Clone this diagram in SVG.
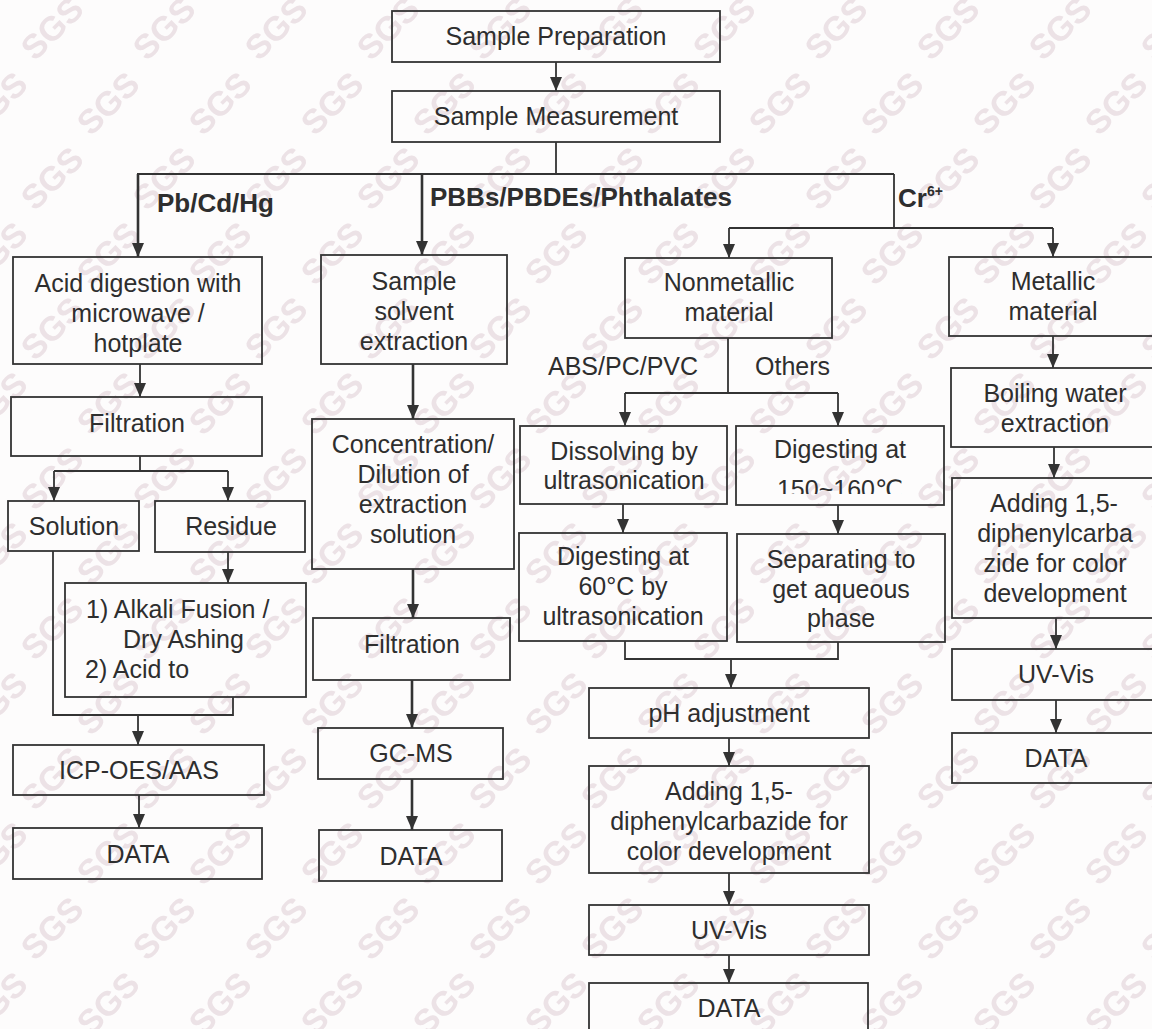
<svg xmlns="http://www.w3.org/2000/svg" width="1152" height="1029" viewBox="0 0 1152 1029">
<defs>
<style>
.box{fill:none;stroke:#333;stroke-width:1.8}
.t{font-family:"Liberation Sans",Arial,"DejaVu Sans",sans-serif;font-size:25px;fill:#2e2e2e;text-anchor:middle}
.tl{font-family:"Liberation Sans",Arial,sans-serif;font-size:25px;fill:#2e2e2e}
.b{font-family:"Liberation Sans",Arial,sans-serif;font-size:26px;font-weight:bold;fill:#2e2e2e}
.ln{fill:none;stroke:#333;stroke-width:1.8}
.th{fill:none;stroke:#333;stroke-width:2.6}
.ar{marker-end:url(#ah)}
.wm{font-family:"Liberation Sans",Arial,sans-serif;font-size:34px;font-weight:bold;fill:#ece2e6}
</style>
<marker id="ah" markerUnits="userSpaceOnUse" markerWidth="14" markerHeight="14" viewBox="0 0 14 12" refX="14" refY="6" orient="auto">
<path d="M0,0 L14,6 L0,12 z" fill="#333"/>
</marker>
<pattern id="wmp" patternUnits="userSpaceOnUse" width="112" height="150" patternTransform="translate(10,-10)">
<text class="wm" transform="translate(25,72) rotate(-45)">SGS</text>
<text class="wm" transform="translate(81,147) rotate(-45)">SGS</text>
<text class="wm" transform="translate(-31,147) rotate(-45)">SGS</text>
<text class="wm" transform="translate(81,-3) rotate(-45)">SGS</text>
<text class="wm" transform="translate(-31,-3) rotate(-45)">SGS</text>
</pattern>
<clipPath id="clip150"><rect x="736" y="426" width="208" height="68"/></clipPath>
</defs>
<rect width="1152" height="1029" fill="#fdfcfc"/>
<rect id="watermark" width="1152" height="1029" fill="url(#wmp)"/>

<g id="connectors">
<path class="ln ar" d="M556,62 V91"/>
<path class="ln" d="M556,142 V174 M137,174 H894"/>
<path class="th ar" d="M138,174 V257"/>
<path class="th ar" d="M422,174 V255"/>
<path class="ln" d="M894,174 V228 M729,228 H1053"/>
<path class="ln ar" d="M729,228 V258"/>
<path class="ln ar" d="M1053,228 V257"/>
<path class="ln ar" d="M140,364 V397"/>
<path class="ln" d="M140,456 V471 M54,471 H228"/>
<path class="ln ar" d="M54,471 V501"/>
<path class="ln ar" d="M228,471 V501"/>
<path class="ln ar" d="M228,552 V583"/>
<path class="ln" d="M53,551 V715 H233 V697"/>
<path class="ln ar" d="M138,715 V745"/>
<path class="ln ar" d="M139,795 V828"/>
<path class="th ar" d="M413,364 V419"/>
<path class="th ar" d="M413,569 V618"/>
<path class="th ar" d="M412,680 V728"/>
<path class="th ar" d="M412,779 V830"/>
<path class="ln" d="M728,338 V393 M625,393 H838"/>
<path class="ln ar" d="M625,393 V426"/>
<path class="ln ar" d="M838,393 V426"/>
<path class="ln ar" d="M623,504 V533"/>
<path class="ln ar" d="M838,505 V534"/>
<path class="ln" d="M625,641 V659 H838 V642"/>
<path class="ln ar" d="M731,659 V688"/>
<path class="ln ar" d="M729,738 V766"/>
<path class="ln ar" d="M729,873 V905"/>
<path class="ln ar" d="M729,955 V983"/>
<path class="ln ar" d="M1053,336 V368"/>
<path class="ln ar" d="M1054,447 V478"/>
<path class="ln ar" d="M1056,618 V649"/>
<path class="ln ar" d="M1056,700 V733"/>
</g>

<g id="labels">
<text class="b" x="157" y="212">Pb/Cd/Hg</text>
<text class="b" x="430" y="206">PBBs/PBDEs/Phthalates</text>
<text class="b" x="898" y="207">Cr<tspan font-size="14" dy="-11">6+</tspan></text>
<text class="tl" x="548" y="375">ABS/PC/PVC</text>
<text class="tl" x="755" y="375">Others</text>
</g>

<g id="prep"><rect class="box" x="392" y="11" width="328" height="51"/><text class="t" x="556" y="45">Sample Preparation</text></g>
<g id="meas"><rect class="box" x="392" y="91" width="328" height="51"/><text class="t" x="556" y="125">Sample Measurement</text></g>

<g id="acid"><rect class="box" x="13" y="257" width="249" height="107"/>
<text class="t" x="138" y="292">Acid digestion with</text><text class="t" x="138" y="322">microwave /</text><text class="t" x="138" y="352">hotplate</text></g>
<g id="filt1"><rect class="box" x="11" y="397" width="251" height="59"/><text class="t" x="137" y="432">Filtration</text></g>
<g id="solution"><rect class="box" x="8" y="501" width="131" height="50"/><text class="t" x="74" y="535">Solution</text></g>
<g id="residue"><rect class="box" x="155" y="501" width="150" height="51"/><text class="t" x="231" y="535">Residue</text></g>
<g id="alkali"><rect class="box" x="65" y="583" width="241" height="114"/>
<text class="tl" x="86" y="618">1) Alkali Fusion /</text><text class="tl" x="123" y="648">Dry Ashing</text><text class="tl" x="85" y="678">2) Acid to</text></g>
<g id="icp"><rect class="box" x="13" y="745" width="251" height="50"/><text class="t" x="139" y="779">ICP-OES/AAS</text></g>
<g id="data1"><rect class="box" x="13" y="828" width="249" height="51"/><text class="t" x="138" y="863">DATA</text></g>

<g id="solvent"><rect class="box" x="321" y="255" width="186" height="109"/>
<text class="t" x="414" y="290">Sample</text><text class="t" x="414" y="320">solvent</text><text class="t" x="414" y="350">extraction</text></g>
<g id="conc"><rect class="box" x="312" y="419" width="202" height="150"/>
<text class="t" x="413" y="453">Concentration/</text><text class="t" x="413" y="483">Dilution of</text><text class="t" x="413" y="513">extraction</text><text class="t" x="413" y="543">solution</text></g>
<g id="filt2"><rect class="box" x="313" y="618" width="197" height="62"/><text class="t" x="412" y="653">Filtration</text></g>
<g id="gcms"><rect class="box" x="318" y="728" width="185" height="51"/><text class="t" x="411" y="762">GC-MS</text></g>
<g id="data2"><rect class="box" x="319" y="830" width="183" height="51"/><text class="t" x="411" y="865">DATA</text></g>

<g id="nonmetallic"><rect class="box" x="625" y="258" width="207" height="80"/>
<text class="t" x="729" y="291">Nonmetallic</text><text class="t" x="729" y="321">material</text></g>
<g id="dissolving"><rect class="box" x="520" y="426" width="207" height="78"/>
<text class="t" x="624" y="460">Dissolving by</text><text class="t" x="624" y="489">ultrasonication</text></g>
<g id="dig150"><rect class="box" x="736" y="426" width="208" height="79"/>
<text class="t" x="840" y="458">Digesting at</text><text class="t" x="840" y="498" clip-path="url(#clip150)">150~160℃</text></g>
<g id="dig60"><rect class="box" x="519" y="533" width="208" height="108"/>
<text class="t" x="623" y="565">Digesting at</text><text class="t" x="623" y="595">60°C by</text><text class="t" x="623" y="625">ultrasonication</text></g>
<g id="separating"><rect class="box" x="737" y="534" width="208" height="108"/>
<text class="t" x="841" y="568">Separating to</text><text class="t" x="841" y="598">get aqueous</text><text class="t" x="841" y="627">phase</text></g>
<g id="ph"><rect class="box" x="589" y="688" width="280" height="50"/><text class="t" x="729" y="722">pH adjustment</text></g>
<g id="adding2"><rect class="box" x="589" y="766" width="280" height="107"/>
<text class="t" x="729" y="800">Adding 1,5-</text><text class="t" x="729" y="830">diphenylcarbazide for</text><text class="t" x="729" y="860">color development</text></g>
<g id="uv2"><rect class="box" x="589" y="905" width="280" height="50"/><text class="t" x="729" y="939">UV-Vis</text></g>
<g id="data3"><rect class="box" x="589" y="983" width="279" height="60"/><text class="t" x="729" y="1017">DATA</text></g>

<g id="metallic"><rect class="box" x="949" y="257" width="220" height="79"/>
<text class="t" x="1053" y="290">Metallic</text><text class="t" x="1053" y="320">material</text></g>
<g id="boiling"><rect class="box" x="951" y="368" width="220" height="79"/>
<text class="t" x="1055" y="402">Boiling water</text><text class="t" x="1055" y="432">extraction</text></g>
<g id="adding1"><rect class="box" x="952" y="478" width="220" height="140"/>
<text class="t" x="1054" y="512">Adding 1,5-</text><text class="t" x="1055" y="542">diphenylcarba</text><text class="t" x="1055" y="572">zide for color</text><text class="t" x="1055" y="602">development</text></g>
<g id="uv1"><rect class="box" x="952" y="649" width="220" height="51"/><text class="t" x="1056" y="683">UV-Vis</text></g>
<g id="data4"><rect class="box" x="952" y="733" width="220" height="50"/><text class="t" x="1056" y="767">DATA</text></g>
</svg>
